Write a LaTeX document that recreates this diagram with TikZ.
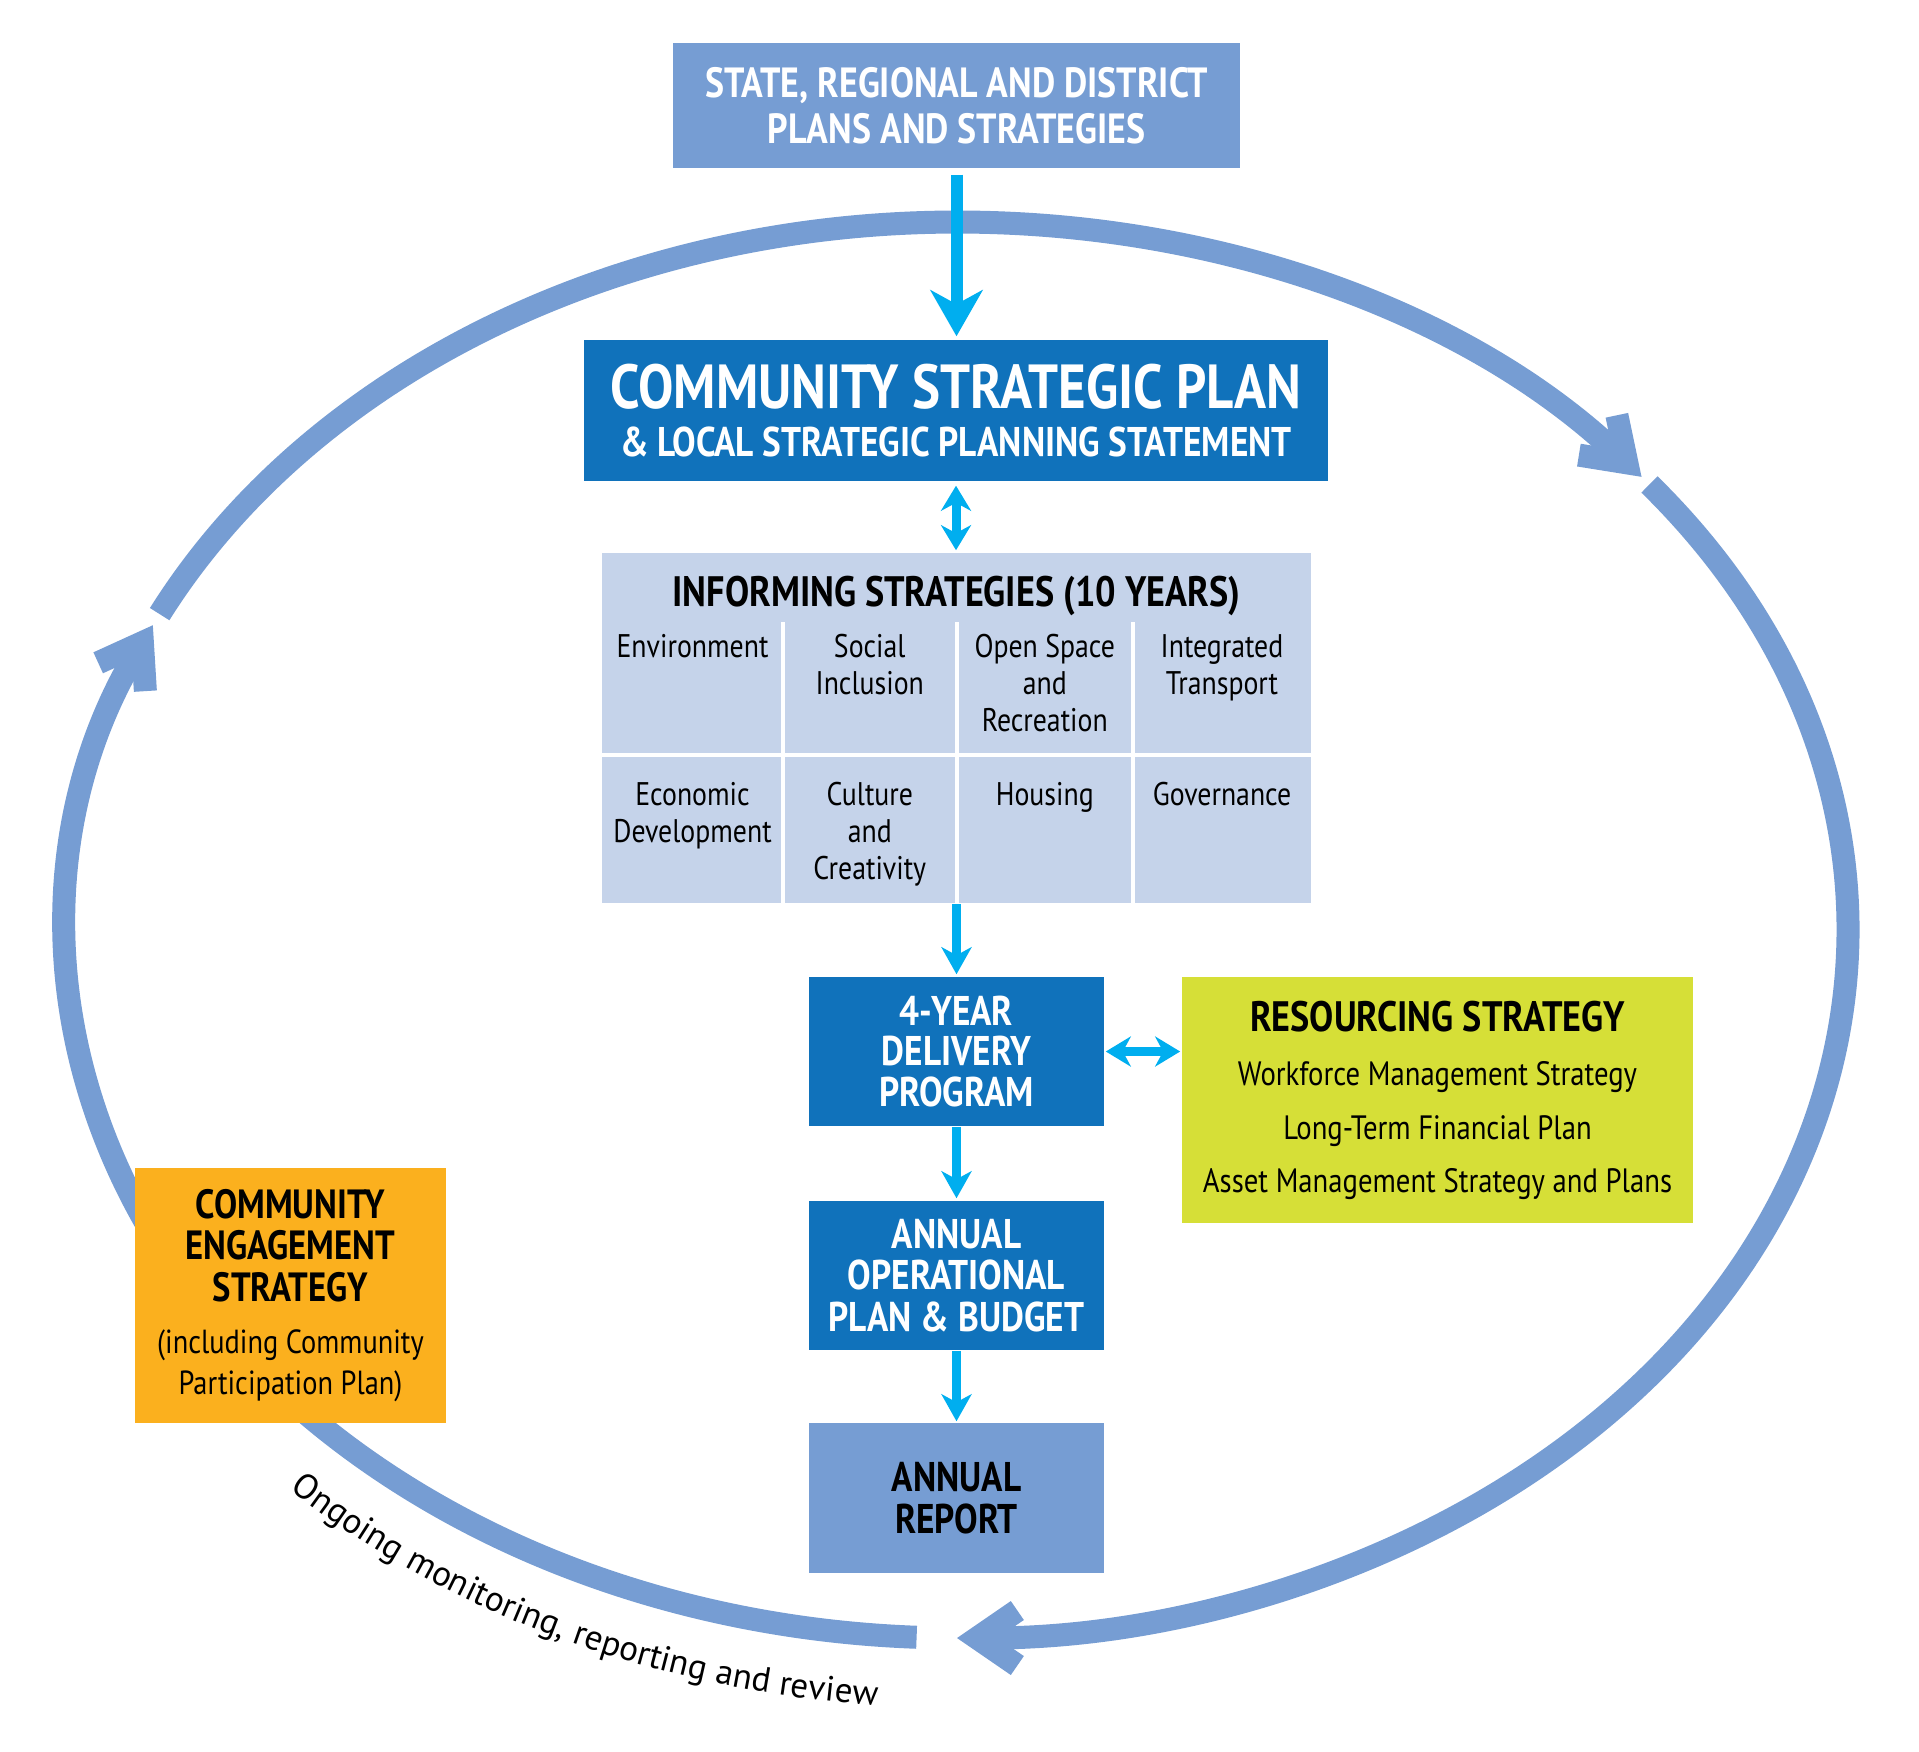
\documentclass[tikz,border=0pt]{standalone}
\usepackage{fontspec}
\setmainfont{PT Sans}[FakeStretch=0.85]
\newfontfamily\arcfont{PT Sans}
\usetikzlibrary{arrows.meta,calc,decorations.text}
\definecolor{loopblue}{RGB}{118,157,211}
\definecolor{cspblue}{RGB}{16,114,187}
\definecolor{infblue}{RGB}{197,211,234}
\definecolor{arrcyan}{RGB}{0,174,239}
\definecolor{rsgreen}{RGB}{214,223,55}
\definecolor{ceorange}{RGB}{251,176,30}
\newcommand\headf{\fontsize{12.1}{13}\selectfont\bfseries}
\newcommand\ceheadf{\fontsize{11.6}{12}\selectfont\bfseries}
\begin{document}
\begin{tikzpicture}[x=0.01cm,y=-0.01cm,
  box/.style={inner sep=0pt, align=center},
  loopline/.style={draw=loopblue, line width=0.23cm},
  looptip/.style={-{Straight Barb[length=0.40cm,width=0.55cm]}},
  bigflow/.style={draw=arrcyan, line width=0.12cm, -{Stealth[length=0.46cm,width=0.52cm,inset=0.14cm]}},
  flow/.style={draw=arrcyan, line width=0.09cm, -{Stealth[length=0.27cm,width=0.30cm,inset=0.08cm]}},
  dflow/.style={draw=arrcyan, line width=0.09cm, {Stealth[length=0.25cm,width=0.30cm,inset=0.08cm]}-{Stealth[length=0.25cm,width=0.30cm,inset=0.08cm]}},
  cell/.style={font=\fontsize{9.3}{10.5}\selectfont, align=center, anchor=north, inner sep=0pt},
  gridline/.style={draw=white, line width=0.04cm}
]
\useasboundingbox (0,0) rectangle (1919,1751);
\coordinate (lc) at (957,930);

% monitoring loop
\draw[loopline, looptip] ($(lc)+(92.6:891 and 708)$) arc[start angle=92.6, end angle=205.5, x radius=891, y radius=708];
\draw[loopline, looptip] ($(lc)+(206.5:891 and 708)$) arc[start angle=206.5, end angle=320.2, x radius=891, y radius=708];
\draw[loopline, looptip] ($(lc)+(321:891 and 708)$) arc[start angle=321, end angle=450, x radius=891, y radius=708];

\path[decorate, decoration={text along path, text align=left,
  text={|\arcfont\fontsize{10}{12}\selectfont|Ongoing monitoring, reporting and review}}]
  ($(lc)+(134:961 and 778)$) arc[start angle=134, end angle=85, x radius=961, y radius=778];

% boxes
\node[box, fill=loopblue, minimum width=5.67cm, minimum height=1.25cm, text=white,
  font=\fontsize{12}{13.1}\selectfont\bfseries] (top) at (956.5,105.5)
  {STATE, REGIONAL AND DISTRICT\\PLANS AND STRATEGIES};
\node[box, fill=cspblue, minimum width=7.44cm, minimum height=1.41cm, text=white,
  font=\fontsize{11.8}{13.8}\selectfont\bfseries] (csp) at (956,410.5)
  {{\fontsize{17.7}{20}\selectfont COMMUNITY STRATEGIC PLAN}\\\& LOCAL STRATEGIC PLANNING STATEMENT};
\node[box, fill=infblue, minimum width=7.09cm, minimum height=3.5cm] (inf) at (956.5,728) {};
\node[inner sep=0pt, anchor=base, font=\headf] (inft) at (956.5,606) {INFORMING STRATEGIES (10 YEARS)};
\draw[gridline] (602,755) -- (1311,755);
\draw[gridline] (783,622) -- (783,903);
\draw[gridline] (956.5,622) -- (956.5,903);
\draw[gridline] (1133,622) -- (1133,903);
\node[cell] (c11) at (692.5,630.7) {\strut Environment};
\node[cell] (c12) at (869.75,630.7) {\strut Social\\Inclusion};
\node[cell] (c13) at (1044.75,630.7) {\strut Open Space\\and\\Recreation};
\node[cell] (c14) at (1222,630.7) {\strut Integrated\\Transport};
\node[cell] (c21) at (692.5,778.6) {\strut Economic\\Development};
\node[cell] (c22) at (869.75,778.6) {\strut Culture\\and\\Creativity};
\node[cell] (c23) at (1044.75,778.6) {\strut Housing};
\node[cell] (c24) at (1222,778.6) {\strut Governance};

\node[box, fill=cspblue, minimum width=2.95cm, minimum height=1.49cm, text=white,
  font=\fontsize{11.8}{11.6}\selectfont\bfseries] (dp) at (956.5,1051.5) {4-YEAR\\DELIVERY\\PROGRAM};
\node[box, fill=rsgreen, minimum width=5.11cm, minimum height=2.46cm,
  font=\fontsize{9.6}{15.1}\selectfont] (rs) at (1437.5,1100)
  {{\headf RESOURCING STRATEGY}\\[0.5pt]Workforce Management Strategy\\Long-Term Financial Plan\\Asset Management Strategy and Plans};
\node[box, fill=cspblue, minimum width=2.95cm, minimum height=1.49cm, text=white,
  font=\fontsize{11.8}{11.7}\selectfont\bfseries] (aop) at (956.5,1275.5) {ANNUAL\\OPERATIONAL\\PLAN \& BUDGET};
\node[box, fill=loopblue, minimum width=2.95cm, minimum height=1.50cm,
  font=\fontsize{11.8}{12}\selectfont\bfseries] (ar) at (956.5,1498) {ANNUAL\\REPORT};
\node[box, fill=ceorange, minimum width=3.11cm, minimum height=2.55cm,
  font=\fontsize{9.5}{11.8}\selectfont] (ce) at (290.5,1295.5)
  {{\ceheadf COMMUNITY}\\{\ceheadf ENGAGEMENT}\\{\ceheadf STRATEGY}\\[3pt](including Community\\Participation Plan)};

% connectors
\draw[bigflow, shorten <=0.06cm, shorten >=0.03cm] (top.south) -- (top.south |- csp.north);
\draw[dflow, shorten <=0.04cm, shorten >=0.02cm] (csp.south) -- (csp.south |- inf.north);
\draw[flow, shorten >=0.02cm] (inf.south) -- (inf.south |- dp.north);
\draw[dflow, shorten <=0.01cm, shorten >=0.01cm] (dp.east) -- (dp.east -| rs.west);
\draw[flow, shorten >=0.02cm] (dp.south) -- (aop.north);
\draw[flow, shorten >=0.01cm] (aop.south) -- (ar.north);
\end{tikzpicture}
\end{document}
